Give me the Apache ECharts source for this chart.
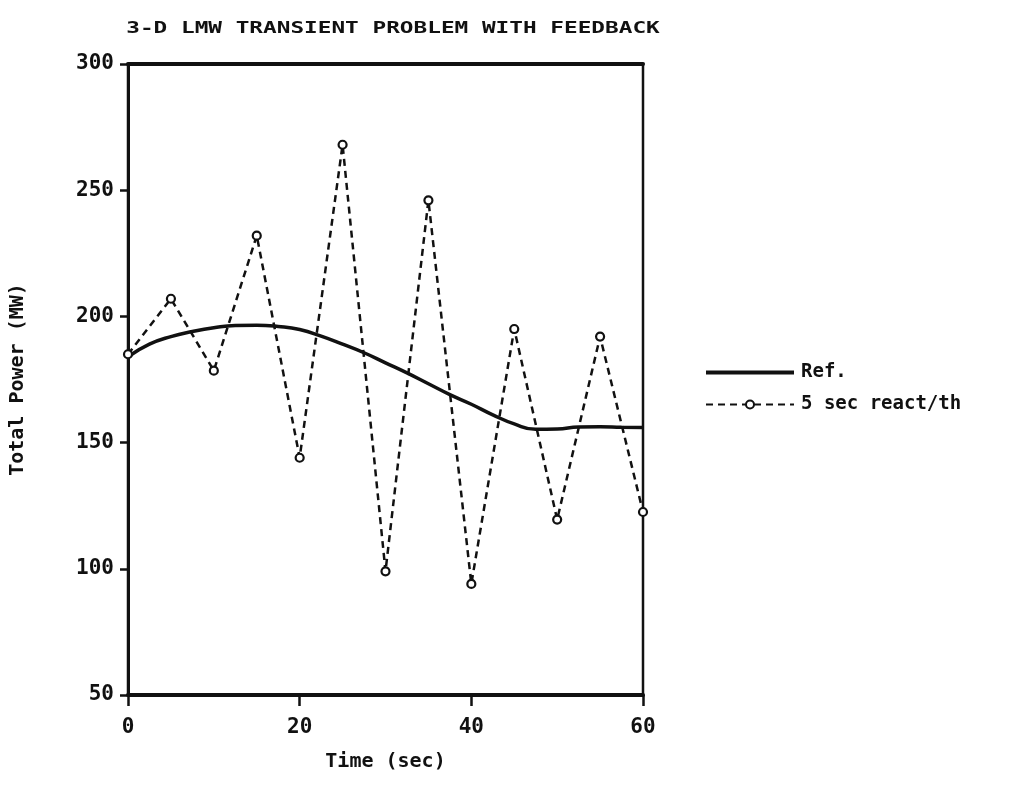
<!DOCTYPE html>
<html>
<head>
<meta charset="utf-8">
<script src="https://cdn.jsdelivr.net/npm/echarts@6/dist/echarts.min.js"></script>
<style>
  html, body { margin: 0; padding: 0; background: #fff; }
  #chart { width: 1011px; height: 800px; }
</style>
</head>
<body>
<div id="chart"></div>
<script>
// Reference run (solid): total power, sampled every 2.5 s
const refTime = [0, 2.5, 5, 7.5, 10, 12.5, 15, 17.5, 20, 22.5, 25, 27.5, 30,
                 32.5, 35, 37.5, 40, 42.5, 45, 47.5, 50, 52.5, 55, 57.5, 60];
const refPower = [184, 189, 192, 194, 195.5, 196.4, 196.5, 196, 194.8, 192.2, 189, 185.6, 181.6,
                  177.6, 173.3, 169, 165.2, 161, 157.4, 155.3, 155.4, 156.2, 156.3, 156.1, 156];

// 5 s reactivity / thermal-hydraulics coupling (dashed with circles)
const coupledTime = [0, 5, 10, 15, 20, 25, 30, 35, 40, 45, 50, 55, 60];
const coupledPower = [185, 207, 178.5, 232, 144, 268, 99, 246, 94, 195, 119.5, 192, 122.5];

const seriesNames = ['Ref.', '5 sec react/th'];
const titleText = '3-D LMW TRANSIENT PROBLEM WITH FEEDBACK';
const xName = 'Time (sec)';
const yName = 'Total Power (MW)';
const xTicks = { min: 0, max: 60, interval: 20 };
const yTicks = { min: 50, max: 300, interval: 50 };

const FONT = '"DejaVu Sans Mono", "Liberation Mono", monospace';
const INK = '#111';

const chart = echarts.init(document.getElementById('chart'), null, { renderer: 'canvas' });

const zip = (xs, ys) => xs.map((x, i) => [x, ys[i]]);

chart.setOption({
  animation: false,
  backgroundColor: '#fff',
  graphic: [{
    type: 'text',
    x: 393,
    y: 29,
    scaleX: 1.42,
    style: {
      text: titleText,
      font: 'bold 16px ' + FONT,
      fill: INK,
      textAlign: 'center',
      textVerticalAlign: 'middle'
    }
  }],
  grid: {
    left: 128, top: 64, width: 515, height: 631,
    show: true, borderColor: INK, borderWidth: 2.5, backgroundColor: 'transparent'
  },
  legend: {
    left: 700, top: 358, orient: 'vertical',
    itemWidth: 88, itemHeight: 10, itemGap: 13,
    data: [
      { name: seriesNames[0], icon: 'path://M0,0 L88,0 L88,4 L0,4 Z', itemStyle: { color: INK } },
      { name: seriesNames[1] }
    ],
    textStyle: { fontFamily: FONT, fontWeight: 'bold', fontSize: 19, color: INK, padding: [0, 0, 0, 2] }
  },
  xAxis: [{
    type: 'value', position: 'bottom',
    min: xTicks.min, max: xTicks.max, interval: xTicks.interval,
    name: xName, nameLocation: 'middle', nameGap: 57,
    nameTextStyle: { fontFamily: FONT, fontWeight: 'bold', fontSize: 20, color: INK },
    axisLine: { show: true, lineStyle: { color: INK, width: 4 } },
    axisTick: { show: true, inside: false, length: 11, lineStyle: { color: INK, width: 2.5 } },
    axisLabel: { margin: 22, fontFamily: FONT, fontWeight: 'bold', fontSize: 21, color: INK },
    splitLine: { show: false }
  }, {
    type: 'value', position: 'top',
    min: xTicks.min, max: xTicks.max,
    axisLine: { show: true, lineStyle: { color: INK, width: 4 } },
    axisTick: { show: false }, axisLabel: { show: false }, splitLine: { show: false }
  }],
  yAxis: {
    type: 'value',
    min: yTicks.min, max: yTicks.max, interval: yTicks.interval,
    name: yName, nameLocation: 'middle', nameGap: 100, nameRotate: 90,
    nameTextStyle: { fontFamily: FONT, fontWeight: 'bold', fontSize: 20, color: INK },
    axisLine: { show: true, lineStyle: { color: INK, width: 3 } },
    axisTick: { show: true, inside: false, length: 8, lineStyle: { color: INK, width: 2.5 } },
    axisLabel: { margin: 14, fontFamily: FONT, fontWeight: 'bold', fontSize: 21, color: INK },
    splitLine: { show: false }
  },
  series: [{
    name: seriesNames[0],
    type: 'line',
    xAxisIndex: 0,
    data: zip(refTime, refPower),
    smooth: 0.5,
    symbol: 'none',
    lineStyle: { color: INK, width: 3.5 },
    itemStyle: { color: INK },
    z: 3
  }, {
    name: seriesNames[1],
    type: 'line',
    xAxisIndex: 0,
    data: zip(coupledTime, coupledPower),
    symbol: 'circle',
    symbolSize: 8,
    showAllSymbol: true,
    lineStyle: { color: INK, width: 2.5, type: [7, 5] },
    itemStyle: { color: '#fff', borderColor: INK, borderWidth: 2.2 },
    z: 4
  }]
});
</script>
</body>
</html>
